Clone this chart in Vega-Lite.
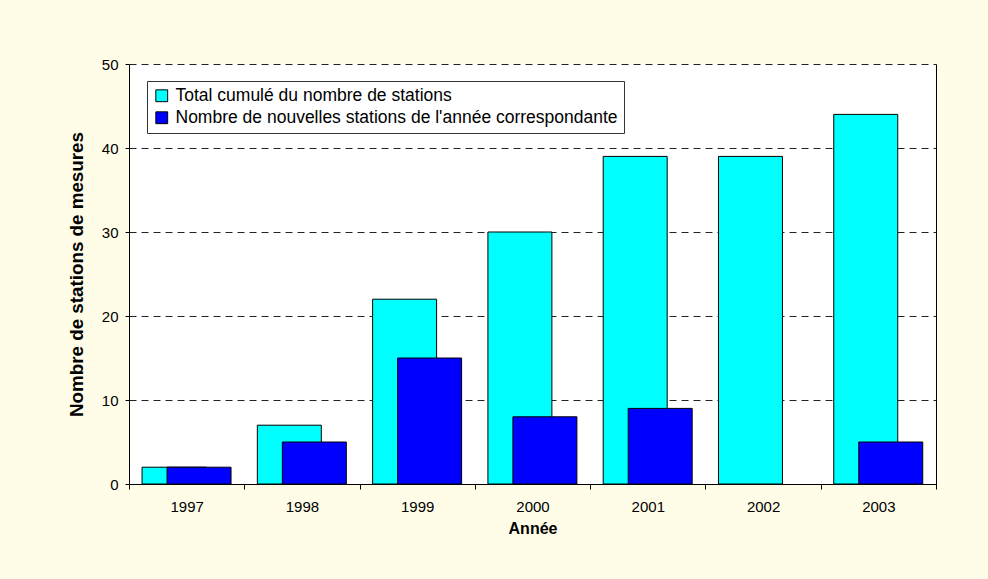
{
  "$schema": "https://vega.github.io/schema/vega-lite/v6.json",
  "width": 807,
  "height": 420,
  "autosize": {"type": "none"},
  "padding": {"left": 129, "top": 64, "right": 52, "bottom": 95},
  "background": "#FFFDE8",
  "config": {"view": {"fill": "white", "stroke": null}, "font": "Liberation Sans"},
  "data": {
    "values": [
      {"year": "1997", "series": "Total cumulé du nombre de stations", "value": 2},
      {"year": "1998", "series": "Total cumulé du nombre de stations", "value": 7},
      {"year": "1999", "series": "Total cumulé du nombre de stations", "value": 22},
      {"year": "2000", "series": "Total cumulé du nombre de stations", "value": 30},
      {"year": "2001", "series": "Total cumulé du nombre de stations", "value": 39},
      {"year": "2002", "series": "Total cumulé du nombre de stations", "value": 39},
      {"year": "2003", "series": "Total cumulé du nombre de stations", "value": 44},
      {"year": "1997", "series": "Nombre de nouvelles stations de l'année correspondante", "value": 2},
      {"year": "1998", "series": "Nombre de nouvelles stations de l'année correspondante", "value": 5},
      {"year": "1999", "series": "Nombre de nouvelles stations de l'année correspondante", "value": 15},
      {"year": "2000", "series": "Nombre de nouvelles stations de l'année correspondante", "value": 8},
      {"year": "2001", "series": "Nombre de nouvelles stations de l'année correspondante", "value": 9},
      {"year": "2003", "series": "Nombre de nouvelles stations de l'année correspondante", "value": 5}
    ]
  },
  "encoding": {
    "x": {
      "field": "year",
      "type": "ordinal",
      "scale": {"paddingInner": 0, "paddingOuter": 0},
      "axis": {
        "title": "Année",
        "titleFontSize": 16,
        "titleFontWeight": "bold",
        "titleColor": "black",
        "titlePadding": 6,
        "labelAngle": 0,
        "labelFontSize": 15,
        "labelColor": "black",
        "labelPadding": 10,
        "tickSize": 5,
        "tickColor": "black",
        "tickBand": "extent",
        "domainColor": "black",
        "grid": false
      }
    },
    "color": {
      "field": "series",
      "type": "nominal",
      "scale": {
        "domain": ["Total cumulé du nombre de stations", "Nombre de nouvelles stations de l'année correspondante"],
        "range": ["#00FFFF", "#0000FF"]
      },
      "legend": {
        "title": null,
        "orient": "none",
        "legendX": 18,
        "legendY": 17,
        "direction": "vertical",
        "symbolType": "square",
        "symbolSize": 140,
        "symbolStrokeColor": "black",
        "symbolStrokeWidth": 1,
        "symbolOpacity": 1,
        "labelFontSize": 17.5,
        "labelColor": "black",
        "labelOffset": 5,
        "labelLimit": 0,
        "rowPadding": 3,
        "padding": 6,
        "strokeColor": "#333",
        "fillColor": "white"
      }
    }
  },
  "layer": [
    {
      "transform": [{"filter": "datum.series === 'Total cumulé du nombre de stations'"}],
      "mark": {"type": "bar", "width": {"band": 0.555}, "xOffset": -12.6, "stroke": "black", "strokeWidth": 1, "opacity": 1},
      "encoding": {
        "y": {
          "field": "value",
          "type": "quantitative",
          "scale": {"domain": [0, 50]},
          "axis": {
            "title": "Nombre de stations de mesures",
            "titleFontSize": 18.8,
            "titleFontWeight": "bold",
            "titleColor": "black",
            "titlePadding": 15,
            "values": [0, 10, 20, 30, 40, 50],
            "labelFontSize": 15,
            "labelColor": "black",
            "labelPadding": 7,
            "tickSize": 4,
            "tickColor": "black",
            "domainColor": "black",
            "grid": true,
            "gridColor": "#222",
            "gridDash": [7, 5],
            "gridWidth": 1
          }
        }
      }
    },
    {
      "transform": [{"filter": "datum.series !== 'Total cumulé du nombre de stations'"}],
      "mark": {"type": "bar", "width": {"band": 0.555}, "xOffset": 12.4, "stroke": "black", "strokeWidth": 1, "opacity": 1},
      "encoding": {
        "y": {
          "field": "value",
          "type": "quantitative",
          "scale": {"domain": [0, 50]},
          "axis": {
            "orient": "right",
            "title": null,
            "labels": false,
            "ticks": false,
            "grid": false,
            "domainColor": "black"
          }
        }
      }
    }
  ],
  "resolve": {"axis": {"y": "independent"}}
}
